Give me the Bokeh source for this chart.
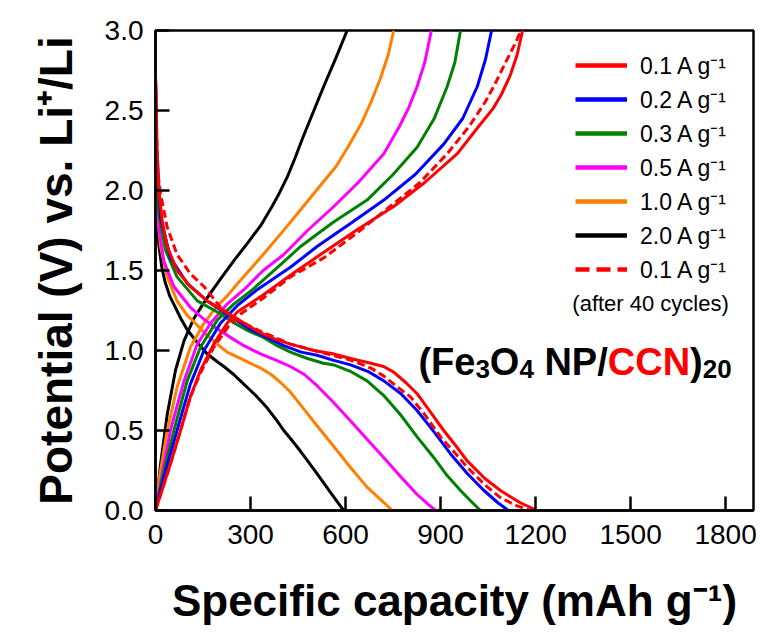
from bokeh.plotting import figure
from bokeh.models import Legend, LegendItem, Label, FixedTicker, Range1d
from bokeh.embed import file_html
from bokeh.resources import INLINE

# ---------------- data ----------------
x_ticks = [0, 300, 600, 900, 1200, 1500, 1800]
x_tick_labels = ["0", "300", "600", "900", "1200", "1500", "1800"]
y_ticks = [0.0, 0.5, 1.0, 1.5, 2.0, 2.5, 3.0]
y_tick_labels = ["0.0", "0.5", "1.0", "1.5", "2.0", "2.5", "3.0"]

series_labels = ["0.1 A g\u207b\u00b9", "0.2 A g\u207b\u00b9", "0.3 A g\u207b\u00b9",
                 "0.5 A g\u207b\u00b9", "1.0 A g\u207b\u00b9", "2.0 A g\u207b\u00b9",
                 "0.1 A g\u207b\u00b9"]
series_colors = ["#ff0000", "#0000ff", "#008000", "#ff00ff", "#ff8000", "black", "#ff0000"]

# 2.0 A/g (black)
dis_cap_20 = [0, 1, 2, 6, 11, 20, 30, 45, 60, 80, 100, 132, 163, 195, 216, 247, 268, 300, 321, 353, 384, 405, 426, 458, 510, 550, 594]
dis_v_20 = [2.70, 2.30, 1.94, 1.78, 1.65, 1.52, 1.43, 1.34, 1.28, 1.20, 1.13, 1.05, 0.98, 0.93, 0.90, 0.85, 0.81, 0.75, 0.71, 0.64, 0.56, 0.50, 0.45, 0.37, 0.23, 0.12, 0.0]
chg_cap_20 = [0, 16, 37, 63, 90, 121, 150, 174, 210, 247, 290, 332, 365, 390, 415, 440, 465, 500, 531, 570, 605]
chg_v_20 = [0.0, 0.29, 0.60, 0.875, 1.06, 1.20, 1.29, 1.36, 1.46, 1.56, 1.67, 1.78, 1.89, 1.98, 2.08, 2.20, 2.33, 2.50, 2.65, 2.83, 3.0]

# 1.0 A/g (orange)
dis_cap_10 = [0, 2, 5, 16, 37, 68, 100, 121, 160, 195, 226, 258, 300, 332, 365, 395, 426, 458, 510, 563, 615, 668, 710, 748]
dis_v_10 = [2.70, 2.20, 1.875, 1.65, 1.46, 1.31, 1.22, 1.18, 1.10, 1.04, 0.99, 0.96, 0.92, 0.89, 0.85, 0.80, 0.74, 0.66, 0.53, 0.40, 0.27, 0.146, 0.07, 0.0]
chg_cap_10 = [0, 11, 37, 68, 110, 153, 195, 226, 260, 300, 340, 400, 458, 520, 570, 610, 650, 680, 710, 735, 752]
chg_v_10 = [0.0, 0.19, 0.50, 0.77, 1.02, 1.17, 1.28, 1.34, 1.42, 1.51, 1.60, 1.74, 1.88, 2.03, 2.15, 2.28, 2.42, 2.55, 2.70, 2.85, 3.0]

# 0.5 A/g (magenta)
dis_cap_05 = [0, 3, 11, 26, 58, 110, 150, 184, 230, 279, 330, 380, 426, 470, 510, 560, 616, 670, 721, 775, 826, 860, 884]
dis_v_05 = [2.70, 2.20, 1.77, 1.56, 1.40, 1.27, 1.20, 1.15, 1.09, 1.03, 0.98, 0.94, 0.90, 0.85, 0.78, 0.68, 0.56, 0.44, 0.33, 0.21, 0.10, 0.04, 0.0]
chg_cap_05 = [0, 21, 47, 90, 132, 174, 226, 279, 340, 405, 480, 563, 640, 721, 770, 800, 826, 850, 871]
chg_v_05 = [0.0, 0.23, 0.50, 0.81, 1.04, 1.17, 1.29, 1.38, 1.50, 1.60, 1.75, 1.90, 2.05, 2.23, 2.40, 2.52, 2.65, 2.80, 3.0]

# 0.3 A/g (green)
dis_cap_03 = [0, 3, 11, 32, 68, 132, 205, 250, 290, 342, 384, 426, 480, 530, 563, 615, 668, 720, 773, 826, 879, 920, 963, 1000, 1026]
dis_v_03 = [2.70, 2.20, 1.85, 1.625, 1.46, 1.31, 1.23, 1.17, 1.125, 1.08, 1.03, 0.99, 0.95, 0.92, 0.91, 0.87, 0.81, 0.72, 0.60, 0.46, 0.33, 0.22, 0.125, 0.05, 0.0]
chg_cap_03 = [0, 22, 58, 100, 142, 195, 247, 300, 380, 458, 560, 668, 750, 826, 880, 921, 945, 963]
chg_v_03 = [0.0, 0.21, 0.50, 0.81, 1.02, 1.19, 1.29, 1.37, 1.51, 1.65, 1.80, 1.94, 2.10, 2.27, 2.45, 2.65, 2.80, 3.0]

# 0.2 A/g (blue)
dis_cap_02 = [0, 3, 16, 47, 100, 163, 247, 300, 353, 405, 460, 510, 560, 616, 670, 721, 775, 826, 880, 931, 985, 1037, 1080, 1114]
dis_v_02 = [2.70, 2.30, 1.83, 1.58, 1.42, 1.31, 1.20, 1.13, 1.08, 1.03, 0.99, 0.97, 0.94, 0.91, 0.87, 0.81, 0.73, 0.625, 0.49, 0.355, 0.23, 0.125, 0.05, 0.0]
chg_cap_02 = [0, 25, 68, 110, 153, 205, 258, 321, 426, 510, 620, 721, 820, 910, 970, 1016, 1042, 1061]
chg_v_02 = [0.0, 0.20, 0.50, 0.79, 1.00, 1.17, 1.28, 1.38, 1.52, 1.65, 1.80, 1.94, 2.10, 2.29, 2.45, 2.65, 2.82, 3.0]

# 0.1 A/g (red)
dis_cap_01 = [0, 3, 5, 11, 21, 37, 68, 110, 163, 247, 332, 380, 426, 500, 560, 616, 680, 720, 752, 790, 826, 870, 910, 950, 984, 1040, 1089, 1150, 1205]
dis_v_01 = [2.72, 2.50, 2.19, 2.00, 1.81, 1.65, 1.50, 1.40, 1.31, 1.21, 1.11, 1.07, 1.04, 1.00, 0.98, 0.95, 0.92, 0.90, 0.865, 0.80, 0.73, 0.61, 0.50, 0.40, 0.31, 0.20, 0.125, 0.05, 0.0]
chg_cap_01 = [0, 16, 47, 79, 110, 142, 184, 226, 258, 342, 426, 521, 640, 752, 850, 953, 1020, 1065, 1092, 1120, 1142, 1159]
chg_v_01 = [0.0, 0.10, 0.29, 0.50, 0.71, 0.875, 1.04, 1.17, 1.24, 1.35, 1.47, 1.60, 1.76, 1.90, 2.05, 2.23, 2.40, 2.51, 2.60, 2.72, 2.85, 3.0]

# 0.1 A/g after 40 cycles (red dashed)
dis_cap_01b = [0, 3, 8, 16, 37, 68, 110, 153, 205, 258, 332, 426, 520, 616, 680, 721, 765, 805, 850, 900, 950, 984, 1040, 1089, 1140, 1184]
dis_v_01b = [2.70, 2.40, 2.10, 1.98, 1.77, 1.60, 1.48, 1.40, 1.27, 1.19, 1.12, 1.04, 0.99, 0.94, 0.89, 0.84, 0.77, 0.71, 0.60, 0.46, 0.35, 0.27, 0.16, 0.08, 0.03, 0.0]
chg_cap_01b = [0, 16, 47, 79, 110, 142, 184, 230, 270, 342, 426, 532, 640, 740, 835, 921, 990, 1040, 1068, 1100, 1136, 1154]
chg_v_01b = [0.0, 0.10, 0.29, 0.50, 0.71, 0.86, 1.02, 1.15, 1.23, 1.33, 1.46, 1.58, 1.74, 1.90, 2.05, 2.23, 2.40, 2.55, 2.65, 2.78, 2.92, 3.0]

# ---------------- figure ----------------
FONT = "Liberation Sans"
p = figure(width=761, height=635, x_range=Range1d(0, 1888), y_range=Range1d(0, 3),
           output_backend="svg", toolbar_location=None,
           min_border_left=155, min_border_right=8, min_border_top=30, min_border_bottom=125)
p.grid.visible = False
p.outline_line_color = "black"
p.outline_line_width = 2.5
p.background_fill_color = "white"
p.border_fill_color = "white"

for ax, ticks, labels in ((p.xaxis[0], x_ticks, x_tick_labels), (p.yaxis[0], y_ticks, y_tick_labels)):
    ax.ticker = FixedTicker(ticks=ticks, minor_ticks=[])
    ax.major_label_overrides = {t: l for t, l in zip(ticks, labels)}
    ax.major_tick_in = 14
    ax.major_tick_out = 0
    ax.minor_tick_line_color = None
    ax.axis_line_width = 2.5
    ax.major_tick_line_width = 2.5
    ax.major_label_text_font = FONT
    ax.major_label_text_font_size = "28px"
    ax.major_label_text_color = "black"
    ax.axis_label_text_font = FONT
    ax.axis_label_text_font_style = "bold"
    ax.axis_label_text_color = "black"

p.xaxis.major_label_standoff = 14
p.yaxis.major_label_standoff = 12
p.xaxis.axis_label = "Specific capacity (mAh g\u207b\u00b9)"
p.xaxis.axis_label_text_font_size = "44px"
p.xaxis.axis_label_standoff = 29
p.yaxis.axis_label = "Potential (V) vs. Li\u207a/Li"
p.yaxis.axis_label_text_font_size = "46px"
p.yaxis.axis_label_standoff = 20

LW = 3
specs = [
    (dis_cap_20, dis_v_20, chg_cap_20, chg_v_20, "black", "solid"),
    (dis_cap_10, dis_v_10, chg_cap_10, chg_v_10, "#ff8000", "solid"),
    (dis_cap_05, dis_v_05, chg_cap_05, chg_v_05, "#ff00ff", "solid"),
    (dis_cap_03, dis_v_03, chg_cap_03, chg_v_03, "#008000", "solid"),
    (dis_cap_02, dis_v_02, chg_cap_02, chg_v_02, "#0000ff", "solid"),
    (dis_cap_01b, dis_v_01b, chg_cap_01b, chg_v_01b, "#ff0000", "8 4"),
    (dis_cap_01, dis_v_01, chg_cap_01, chg_v_01, "#ff0000", "solid"),
]
for dc, dv, cc, cv, col, dash in specs:
    p.line(dc, dv, line_color=col, line_width=LW, line_dash=dash, line_join="round")
    p.line(cc, cv, line_color=col, line_width=LW, line_dash=dash, line_join="round")

# legend keys (thicker strokes, as in the original legend); NaN data draws nothing in the plot
NAN = float("nan")
items = []
for i, (lab, col) in enumerate(zip(series_labels, series_colors)):
    key = p.line([NAN], [NAN], line_color=col, line_width=4.5,
                 line_dash="14 7" if i == 6 else "solid")
    items.append(LegendItem(label=lab, renderers=[key]))
legend = Legend(items=items, location=(420, 225), margin=0, padding=0,
                border_line_color=None, background_fill_alpha=0,
                glyph_width=52, glyph_height=20, label_standoff=13, spacing=2,
                label_text_font=FONT, label_text_font_size="23px", label_height=20,
                label_text_color="black")
p.add_layout(legend)

p.add_layout(Label(x=1563, y=1.294, text="(after 40 cycles)", text_font=FONT,
                   text_font_size="22px", text_align="center", text_baseline="middle",
                   text_color="black"))

# annotation (Fe3O4 NP/CCN)20 built from pieces
AW = {"(": .333, ")": .333, "F": .611, "e": .556, "O": .778, "N": .722, "P": .667,
      "/": .278, "C": .722, " ": .278, "0": .556, "2": .556, "3": .556, "4": .556}
F_MAIN, F_SUB = 38, 26
pieces = [("(Fe", F_MAIN, 0, "black"), ("3", F_SUB, -7, "black"), ("O", F_MAIN, 0, "black"),
          ("4", F_SUB, -7, "black"), (" NP/", F_MAIN, 0, "black"), ("CCN", F_MAIN, 0, "#ff0000"),
          (")", F_MAIN, 0, "black"), ("20", F_SUB, -7, "black")]
off = 0.0
for txt, fs, dy, col in pieces:
    lead = len(txt) - len(txt.lstrip(" "))
    off += lead * AW[" "] * fs
    body = txt.lstrip(" ")
    p.add_layout(Label(x=830, y=0.93, x_offset=off, y_offset=dy, text=body, text_font=FONT,
                       text_font_size=f"{fs}px", text_font_style="bold", text_color=col,
                       text_align="left", text_baseline="alphabetic"))
    off += sum(AW[c] for c in body) * fs

open("out.html", "w").write(file_html(p, INLINE))
